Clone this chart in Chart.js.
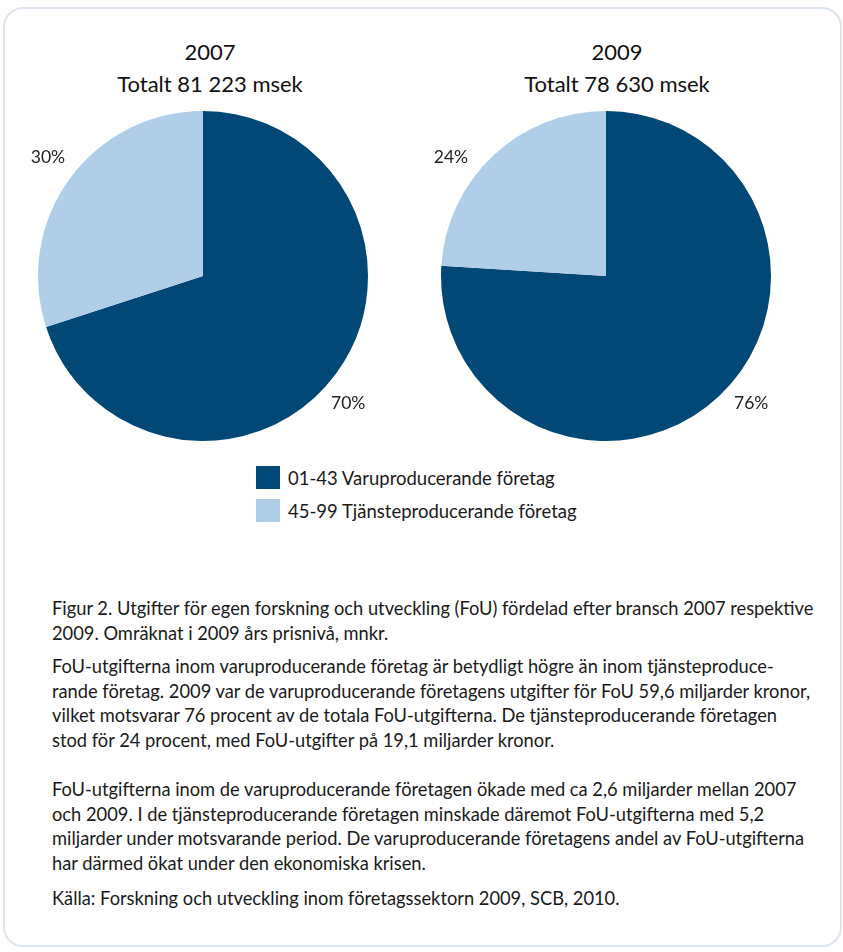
<!DOCTYPE html>
<html lang="sv">
<head>
<meta charset="utf-8">
<script src="https://cdn.jsdelivr.net/npm/chart.js@4.4.1/dist/chart.umd.min.js"></script>
<style>
  html, body { margin: 0; padding: 0; background: #fff; }
  body { width: 843px; height: 952px; position: relative; overflow: hidden; font-family: Lato, "Open Sans", sans-serif; color: #1a1a1a; }
  .frame { position: absolute; left: 3px; top: 7px; width: 835px; height: 936px; border: 2.5px solid #dde5f0; border-radius: 20px; }
  .title { position: absolute; width: 400px; text-align: center; font-size: 22px; line-height: 32px; color: #111; }
  canvas { position: absolute; }
  .legend { position: absolute; left: 256px; top: 461px; font-size: 18.5px; }
  .legend div { display: flex; align-items: center; height: 33px; }
  .legend span.box { width: 24px; height: 23px; margin-right: 8px; display: inline-block; }
  .text { position: absolute; left: 52px; font-size: 18.3px; line-height: 24.5px; white-space: nowrap; color: #1a1a1a; }
</style>
</head>
<body>
<div class="frame"></div>

<div class="title" id="t1" style="left:10px; top:36px;"></div>
<div class="title" id="t2" style="left:417px; top:36px;"></div>

<canvas id="pie2007" width="400" height="370" style="left:3px; top:91px;"></canvas>
<canvas id="pie2009" width="400" height="370" style="left:406px; top:91px;"></canvas>

<div class="legend" id="legend"></div>

<div class="text" style="top:596px;">
Figur 2. Utgifter för egen forskning och utveckling (FoU) fördelad efter bransch 2007 respektive<br>
2009. Omräknat i 2009 års prisnivå, mnkr.
</div>
<div class="text" style="top:654px;">
FoU-utgifterna inom varuproducerande företag är betydligt högre än inom tjänsteproduce-<br>
rande företag. 2009 var de varuproducerande företagens utgifter för FoU 59,6 miljarder kronor,<br>
vilket motsvarar 76 procent av de totala FoU-utgifterna. De tjänsteproducerande företagen<br>
stod för 24 procent, med FoU-utgifter på 19,1 miljarder kronor.
</div>
<div class="text" style="top:777px;">
FoU-utgifterna inom de varuproducerande företagen ökade med ca 2,6 miljarder mellan 2007<br>
och 2009. I de tjänsteproducerande företagen minskade däremot FoU-utgifterna med 5,2<br>
miljarder under motsvarande period. De varuproducerande företagens andel av FoU-utgifterna<br>
har därmed ökat under den ekonomiska krisen.
</div>
<div class="text" style="top:886px;">
Källa: Forskning och utveckling inom företagssektorn 2009, SCB, 2010.
</div>

<script>
// data
const categories = ["01-43 Varuproducerande företag", "45-99 Tjänsteproducerande företag"];
const years = ["2007", "2009"];
const totals = ["81 223", "78 630"];
const share2007 = [70, 30];
const share2009 = [76, 24];
const colors = ["#014876", "#b1cee9"];

// where the % labels sit, relative to centre, in radii
const labelPos = [[0.88, 0.77], [-0.94, -0.72]];

const pctLabels = {
  id: "pctLabels",
  afterDatasetsDraw(chart) {
    const ctx = chart.ctx;
    const meta = chart.getDatasetMeta(0);
    const vals = chart.data.datasets[0].data;
    ctx.save();
    ctx.font = "17.5px Lato";
    ctx.fillStyle = "#222";
    ctx.textAlign = "center";
    ctx.textBaseline = "middle";
    meta.data.forEach((arc, i) => {
      const r = arc.outerRadius;
      ctx.fillText(vals[i] + "%", arc.x + labelPos[i][0] * r, arc.y + labelPos[i][1] * r);
    });
    ctx.restore();
  }
};

function makePie(id, values) {
  return new Chart(document.getElementById(id), {
    type: "pie",
    data: {
      labels: categories,
      datasets: [{
        data: values,
        backgroundColor: colors,
        borderWidth: 0
      }]
    },
    options: {
      responsive: false,
      animation: false,
      layout: { padding: { left: 35, right: 35, top: 20, bottom: 20 } },
      plugins: {
        legend: { display: false },
        tooltip: { enabled: false }
      }
    },
    plugins: [pctLabels]
  });
}

makePie("pie2007", share2007);
makePie("pie2009", share2009);

document.getElementById("t1").innerHTML = years[0] + "<br>Totalt " + totals[0] + " msek";
document.getElementById("t2").innerHTML = years[1] + "<br>Totalt " + totals[1] + " msek";

const legend = document.getElementById("legend");
categories.forEach((c, i) => {
  const row = document.createElement("div");
  row.innerHTML = '<span class="box" style="background:' + colors[i] + '"></span>' + c;
  legend.appendChild(row);
});
</script>
</body>
</html>
